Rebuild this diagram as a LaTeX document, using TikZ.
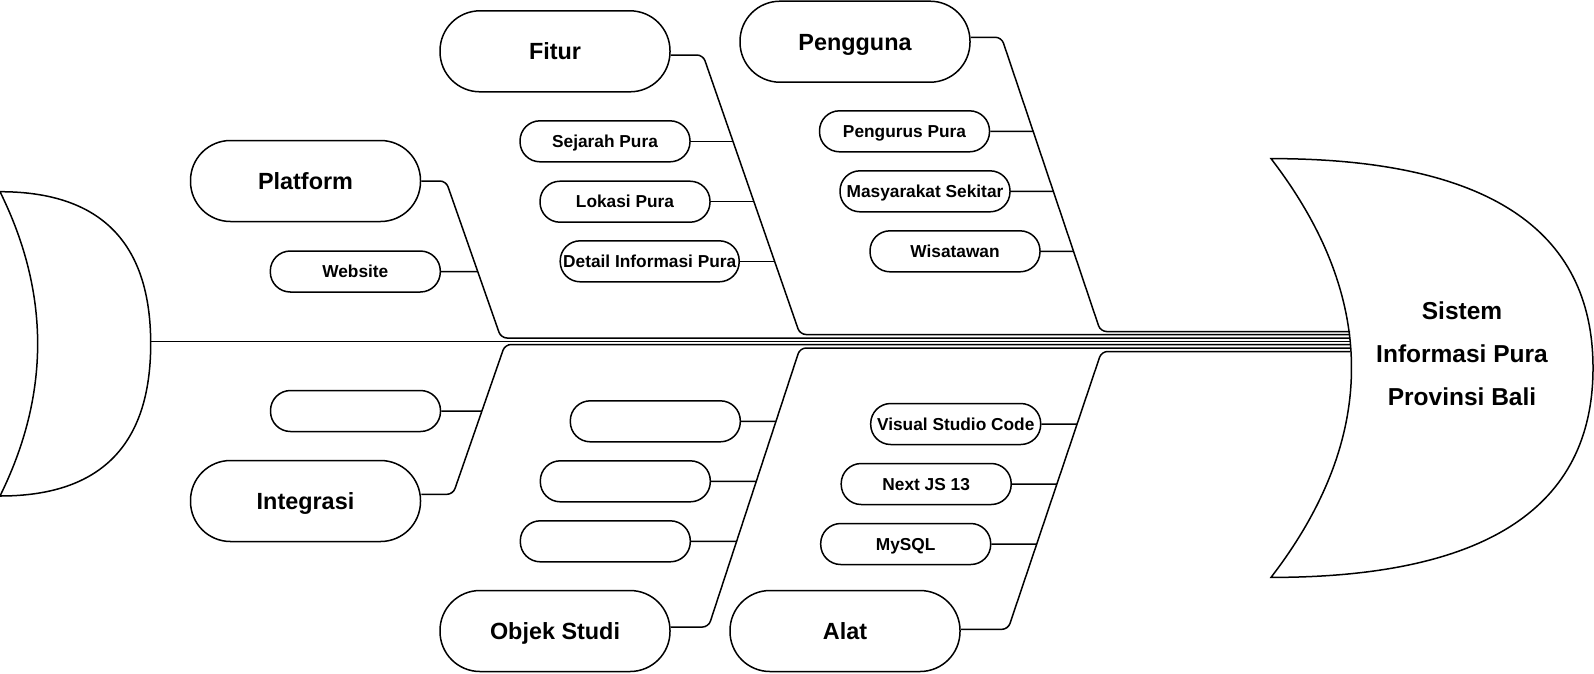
\documentclass[tikz,border=0pt]{standalone}
\usepackage{fontspec}
\setmainfont{Liberation Sans}
\newcommand{\kategori}[3]{%
 \node[katbox] ({#1}) at ({#2}) {#3} %
}
\newcommand{\rincian}[4][170pt]{%
 \node[rinbox,minimum width=#1] ({#2}) at ({#3}) {#4} %
}
\newcommand{\cabang}[3]{%
 \draw[garis,rounded corners=6pt] (#1.east |- #2) -- (#2) -- (#3) -- (#3 -| kepala) %
}
\newcommand{\ranting}[3]{%
 \draw[garis] (#1.east) -- (intersection cs: first line={(#2)--(#3)}, second line={(#1.east)--([xshift=10pt]#1.east)}) %
}
\begin{document}
\begin{tikzpicture}[x=1pt,y=-1pt,
  garis/.style={black,line width=1.5pt},
  katbox/.style={draw,line width=1.5pt,rounded corners=40pt,minimum width=230pt,minimum height=81pt,inner sep=0pt,
    font=\fontsize{23.4}{28}\selectfont\bfseries,text height=16.8pt,text depth=0pt},
  rinbox/.style={draw,line width=1.5pt,rounded corners=20pt,minimum height=41pt,inner sep=0pt,
    font=\fontsize{17.3}{21}\selectfont\bfseries,text height=12.4pt,text depth=0pt}]
  \useasboundingbox (0,0) rectangle (1594,673);
  % ekor dan kepala ikan
  \draw[garis] (0,191.7) .. controls (100.5,191.7) and (150.7,242.4) .. (150.7,343.8)
    .. controls (150.7,445.3) and (100.5,496) .. (0,496)
    .. controls (50.2,394.5) and (50.2,293.1) .. cycle;
  \draw[garis] (1271,158.6) .. controls (1485.7,158.6) and (1593,228.4) .. (1593,368)
    .. controls (1593,507.6) and (1485.7,577.4) .. (1271,577.4)
    .. controls (1378.3,437.8) and (1378.3,298.2) .. cycle;
  \coordinate (ekor) at (150.7,341.5);
  \coordinate (kepala) at (1350,341.5);
  \node[font=\fontsize{24.5}{43}\selectfont\bfseries,align=center] (judul) at (1462,353.7) {Sistem\\Informasi Pura\\Provinsi Bali};
  % kategori
  \kategori{platform}{305.5,181}{Platform};
  \kategori{fitur}{555,51.3}{Fitur};
  \kategori{pengguna}{855,41.7}{Pengguna};
  \kategori{integrasi}{305.5,501}{Integrasi};
  \kategori{objek}{555,631}{Objek Studi};
  \kategori{alat}{845,631}{Alat};
  % rincian
  \rincian{website}{355.3,271.5}{Website};
  \rincian{kosong1}{355.5,411}{};
  \rincian{sejarah}{605,141.3}{Sejarah Pura};
  \rincian{lokasi}{625,201.7}{Lokasi Pura};
  \rincian[179pt]{detail}{649.7,261.3}{Detail Informasi Pura};
  \rincian{kosong2}{655.3,421.3}{};
  \rincian{kosong3}{625.3,481.3}{};
  \rincian{kosong4}{605.3,541.3}{};
  \rincian{pengurus}{904.5,131.3}{Pengurus Pura};
  \rincian{masyarakat}{925,191.3}{Masyarakat Sekitar};
  \rincian{wisatawan}{955,251.3}{Wisatawan};
  \rincian{vscode}{955.7,424}{Visual Studio Code};
  \rincian{nextjs}{926.2,484}{Next JS 13};
  \rincian{mysql}{905.7,544}{MySQL};
  % tulang
  \coordinate (platform-c) at (446,181);
  \coordinate (platform-s) at (501,338);
  \coordinate (fitur-c) at (703,55);
  \coordinate (fitur-s) at (800,334.5);
  \coordinate (pengguna-c) at (1001.5,37.3);
  \coordinate (pengguna-s) at (1100.5,331.5);
  \coordinate (integrasi-c) at (453,494.3);
  \coordinate (integrasi-s) at (505,344.5);
  \coordinate (objek-c) at (708.5,627);
  \coordinate (objek-s) at (800,348);
  \coordinate (alat-c) at (1008,629.3);
  \coordinate (alat-s) at (1101.5,351.5);
  \draw[garis] (ekor) -- (kepala);
  \cabang{platform}{platform-c}{platform-s};
  \cabang{fitur}{fitur-c}{fitur-s};
  \cabang{pengguna}{pengguna-c}{pengguna-s};
  \cabang{integrasi}{integrasi-c}{integrasi-s};
  \cabang{objek}{objek-c}{objek-s};
  \cabang{alat}{alat-c}{alat-s};
  \ranting{website}{platform-c}{platform-s};
  \ranting{kosong1}{integrasi-c}{integrasi-s};
  \ranting{sejarah}{fitur-c}{fitur-s};
  \ranting{lokasi}{fitur-c}{fitur-s};
  \ranting{detail}{fitur-c}{fitur-s};
  \ranting{kosong2}{objek-c}{objek-s};
  \ranting{kosong3}{objek-c}{objek-s};
  \ranting{kosong4}{objek-c}{objek-s};
  \ranting{pengurus}{pengguna-c}{pengguna-s};
  \ranting{masyarakat}{pengguna-c}{pengguna-s};
  \ranting{wisatawan}{pengguna-c}{pengguna-s};
  \ranting{vscode}{alat-c}{alat-s};
  \ranting{nextjs}{alat-c}{alat-s};
  \ranting{mysql}{alat-c}{alat-s};
\end{tikzpicture}
\end{document}
